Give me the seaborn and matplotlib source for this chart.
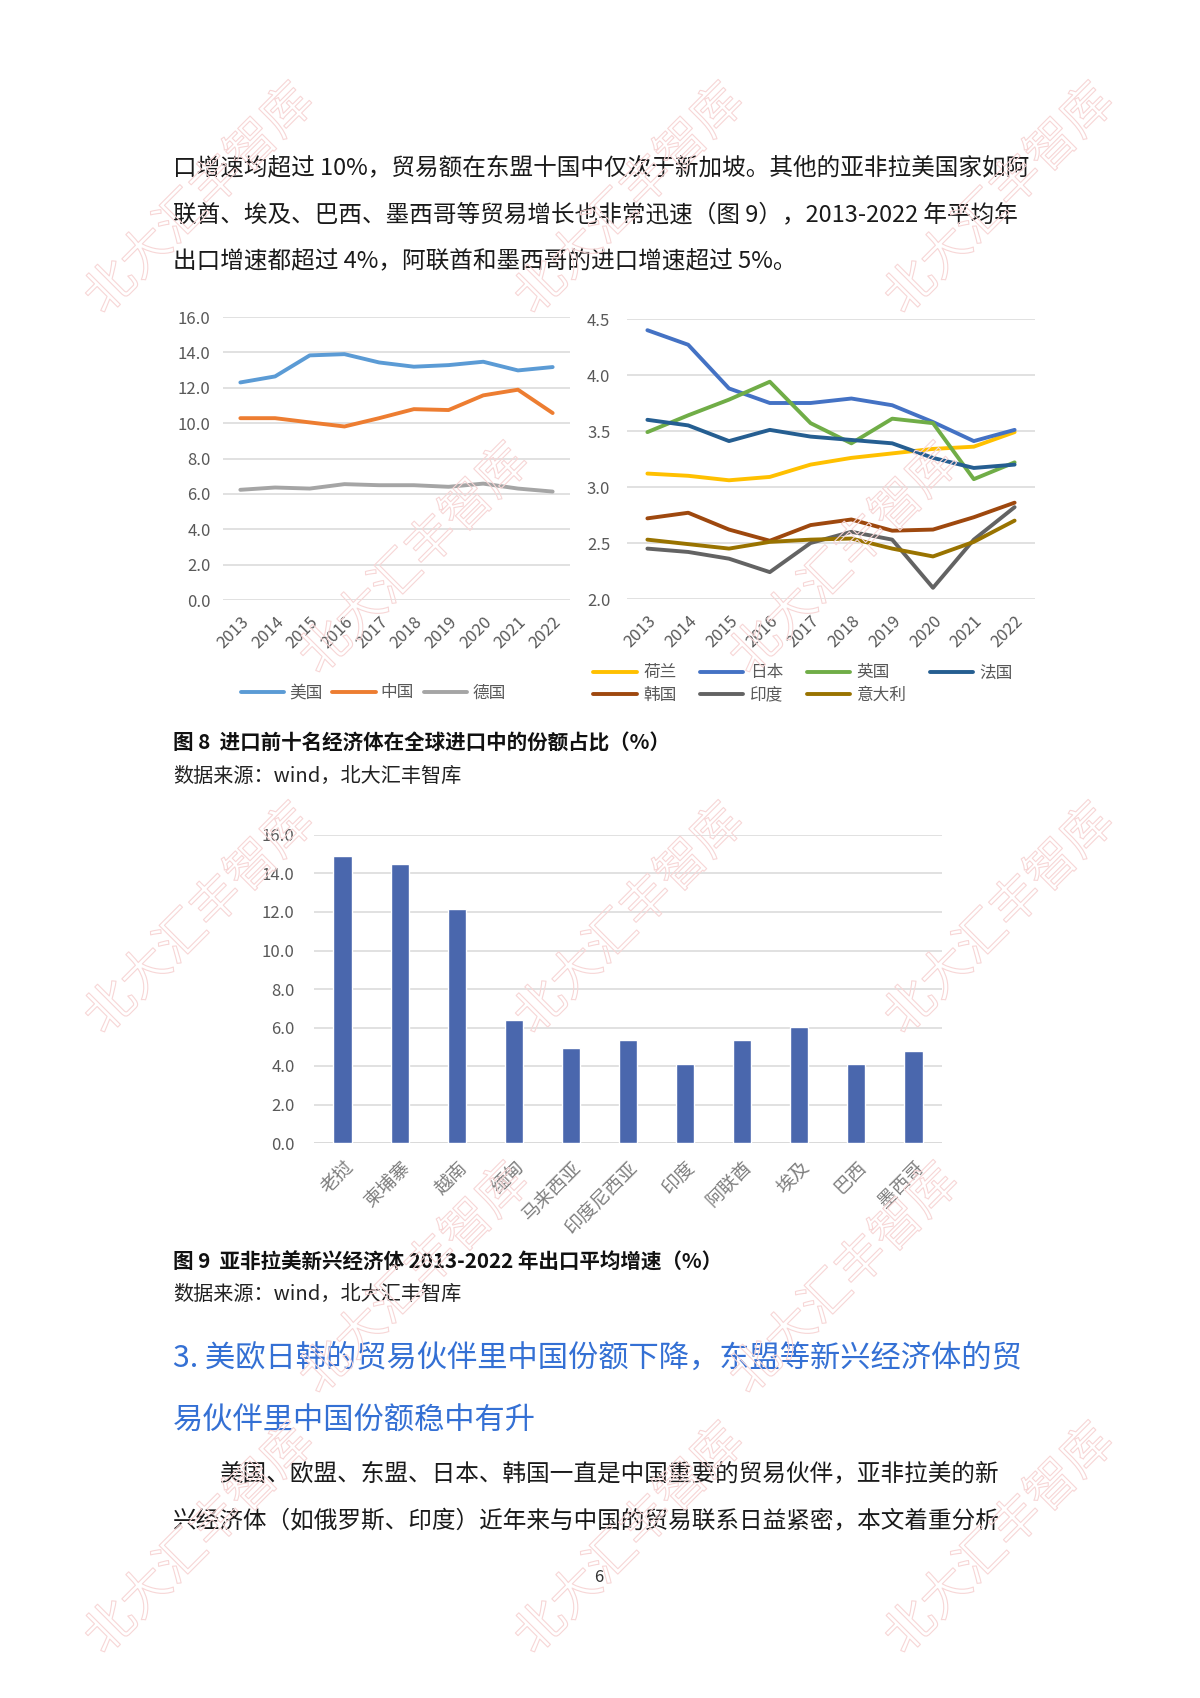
import matplotlib
matplotlib.use('Agg')
import matplotlib.pyplot as plt
import matplotlib.patheffects as pe
import pandas as pd
import seaborn as sns

# ---- data ----
years = [str(y) for y in range(2013, 2023)]

# 图8 左：份额（%）
left_names = ['美国', '中国', '德国']
usa = [12.30, 12.64, 13.83, 13.90, 13.43, 13.19, 13.28, 13.47, 12.98, 13.17]
chn = [10.28, 10.28, 10.04, 9.81, 10.28, 10.79, 10.74, 11.57, 11.89, 10.57]
deu = [6.23, 6.36, 6.30, 6.55, 6.49, 6.49, 6.40, 6.58, 6.30, 6.13]
left_colors = ['#5B9BD5', '#ED7D31', '#A5A5A5']

# 图8 右
right_names = ['荷兰', '日本', '英国', '法国', '韩国', '印度', '意大利']
nld = [3.12, 3.10, 3.06, 3.09, 3.20, 3.26, 3.30, 3.34, 3.36, 3.49]
jpn = [4.40, 4.27, 3.88, 3.75, 3.75, 3.79, 3.73, 3.58, 3.41, 3.51]
gbr = [3.49, 3.64, 3.78, 3.94, 3.57, 3.39, 3.61, 3.57, 3.07, 3.22]
fra = [3.60, 3.55, 3.41, 3.51, 3.45, 3.42, 3.39, 3.26, 3.17, 3.20]
kor = [2.72, 2.77, 2.62, 2.52, 2.66, 2.71, 2.61, 2.62, 2.73, 2.86]
ind = [2.45, 2.42, 2.36, 2.24, 2.50, 2.60, 2.53, 2.10, 2.53, 2.82]
ita = [2.53, 2.49, 2.45, 2.51, 2.53, 2.54, 2.45, 2.38, 2.51, 2.70]
right_colors = ['#FFC000', '#4472C4', '#70AD47', '#255E91', '#9E480E', '#636363', '#997300']

# 图9
bar_cats = ['老挝', '柬埔寨', '越南', '缅甸', '马来西亚', '印度尼西亚', '印度',
            '阿联酋', '埃及', '巴西', '墨西哥']
bar_vals = [14.9, 14.47, 12.18, 6.38, 4.94, 5.36, 4.12, 5.36, 6.05, 4.11, 4.78]

W, H = 1200, 1698
sns.set_style('white')
plt.rcParams['font.family'] = ['Noto Sans CJK SC', 'DejaVu Sans']
TICK = '#595959'

fig = plt.figure(figsize=(12, 16.98), dpi=100)


def fy(y):
    return 1 - y / H


def axes_px(x0, x1, ytop, ybot):
    return fig.add_axes([x0 / W, 1 - ybot / H, (x1 - x0) / W, (ybot - ytop) / H])


def style_axes(ax, ypad):
    sns.despine(ax=ax, left=True, bottom=True)
    ax.grid(axis='y', color='#D9D9D9', linewidth=1.1)
    ax.grid(axis='x', visible=False)
    ax.set_axisbelow(True)
    ax.tick_params(axis='y', length=0, pad=ypad, labelsize=12, labelcolor=TICK)
    ax.tick_params(axis='x', length=0, labelcolor=TICK)
    ax.set_xlabel('')
    ax.set_ylabel('')


# ---- watermark (outlined, faint) ----
wm_fx = [pe.Stroke(linewidth=0.8, foreground='#F7D6D6')]
wm_rows = [(200, [200, 630, 1000]), (560, [415, 845]), (920, [200, 630, 1000]),
           (1280, [415, 845]), (1540, [200, 630, 1000])]
for yc, xs in wm_rows:
    for xc in xs:
        fig.text(xc / W, fy(yc), '北大汇丰智库', fontsize=36, rotation=45,
                 ha='center', va='center', color=(1, 1, 1, 0), path_effects=wm_fx,
                 zorder=10)

# ---- body text ----
body_kw = dict(fontsize=17, color='#1a1a1a', va='center', ha='left')
fig.text(173 / W, fy(168), '口增速均超过 10%，贸易额在东盟十国中仅次于新加坡。其他的亚非拉美国家如阿', **body_kw)
fig.text(173 / W, fy(215), '联酋、埃及、巴西、墨西哥等贸易增长也非常迅速（图 9），2013-2022 年平均年', **body_kw)
fig.text(173 / W, fy(262), '出口增速都超过 4%，阿联酋和墨西哥的进口增速超过 5%。', **body_kw)

# ---- 图8 左 ----
df_left = pd.DataFrame({'year': years * 3,
                        'value': usa + chn + deu,
                        'name': [n for n in left_names for _ in years]})
ax1 = axes_px(223, 570, 317, 600)
sns.lineplot(data=df_left, x='year', y='value', hue='name', hue_order=left_names,
             palette=left_colors, linewidth=2.8, ax=ax1, legend=True)
ax1.set_ylim(0, 16)
ax1.set_yticks([0, 2, 4, 6, 8, 10, 12, 14, 16])
ax1.set_yticklabels([f'{v:.1f}' for v in range(0, 17, 2)])
ax1.set_xlim(-0.5, 9.5)
style_axes(ax1, 9)
plt.setp(ax1.get_xticklabels(), rotation=45, ha='right', rotation_mode='anchor', fontsize=12)
ax1.tick_params(axis='x', pad=10)
h, l = ax1.get_legend_handles_labels()
ax1.legend(h, l, loc='center', bbox_to_anchor=(373 / W, fy(693)),
           bbox_transform=fig.transFigure, ncol=3, frameon=False, fontsize=12,
           handlelength=2.6, handletextpad=0.3, columnspacing=0.6,
           labelcolor=TICK)

# ---- 图8 右 ----
df_right = pd.DataFrame({'year': years * 7,
                         'value': nld + jpn + gbr + fra + kor + ind + ita,
                         'name': [n for n in right_names for _ in years]})
ax2 = axes_px(627, 1035, 319, 599)
sns.lineplot(data=df_right, x='year', y='value', hue='name', hue_order=right_names,
             palette=right_colors, linewidth=2.8, ax=ax2, legend=True)
ax2.set_ylim(2.0, 4.5)
ax2.set_yticks([2.0, 2.5, 3.0, 3.5, 4.0, 4.5])
ax2.set_yticklabels(['2.0', '2.5', '3.0', '3.5', '4.0', '4.5'])
ax2.set_xlim(-0.5, 9.5)
style_axes(ax2, 12)
plt.setp(ax2.get_xticklabels(), rotation=45, ha='right', rotation_mode='anchor', fontsize=12)
ax2.tick_params(axis='x', pad=10)
h, l = ax2.get_legend_handles_labels()
order = [0, 4, 1, 5, 2, 6, 3]
ax2.legend([h[i] for i in order], [l[i] for i in order], loc='upper left',
           bbox_to_anchor=(585 / W, fy(656)), bbox_transform=fig.transFigure,
           ncol=4, frameon=False, fontsize=12, handlelength=2.6, handletextpad=0.4,
           columnspacing=1.4, labelspacing=0.35, labelcolor=TICK, borderpad=0)

# captions for 图8
fig.text(173 / W, fy(743), '图 8  进口前十名经济体在全球进口中的份额占比（%）', fontsize=14.8,
         fontweight='bold', color='#111111', va='center')
fig.text(173 / W, fy(776), '数据来源：wind，北大汇丰智库', fontsize=14.5, color='#222222', va='center')

# ---- 图9 ----
ax3 = axes_px(314, 942, 835, 1143)
sns.barplot(x=bar_cats, y=bar_vals, color='#4A67AD', width=0.32, saturation=1, ax=ax3)
ax3.set_ylim(0, 16)
ax3.set_yticks(range(0, 17, 2))
ax3.set_yticklabels([f'{v:.1f}' for v in range(0, 17, 2)])
style_axes(ax3, 14)
ax3.axhline(0, color='#D9D9D9', linewidth=1.1, zorder=0)
plt.setp(ax3.get_xticklabels(), rotation=45, ha='right', rotation_mode='anchor',
         fontsize=13.5, color='#7f7f7f')
ax3.tick_params(axis='x', pad=10)

fig.text(173 / W, fy(1262), '图 9  亚非拉美新兴经济体 2013-2022 年出口平均增速（%）', fontsize=14.8,
         fontweight='bold', color='#111111', va='center')
fig.text(173 / W, fy(1294), '数据来源：wind，北大汇丰智库', fontsize=14.5, color='#222222', va='center')

# ---- heading and text ----
head_kw = dict(fontsize=21.8, color='#3470D4', va='center', ha='left')
fig.text(173 / W, fy(1358), '3. 美欧日韩的贸易伙伴里中国份额下降，东盟等新兴经济体的贸', **head_kw)
fig.text(173 / W, fy(1421), '易伙伴里中国份额稳中有升', **head_kw)
fig.text(220 / W, fy(1474), '美国、欧盟、东盟、日本、韩国一直是中国重要的贸易伙伴，亚非拉美的新', **body_kw)
fig.text(173 / W, fy(1522), '兴经济体（如俄罗斯、印度）近年来与中国的贸易联系日益紧密，本文着重分析', **body_kw)
fig.text(599 / W, fy(1577), '6', fontsize=12, color='#333333', ha='center', va='center')

fig.savefig('out.png', dpi=100, facecolor='white')
